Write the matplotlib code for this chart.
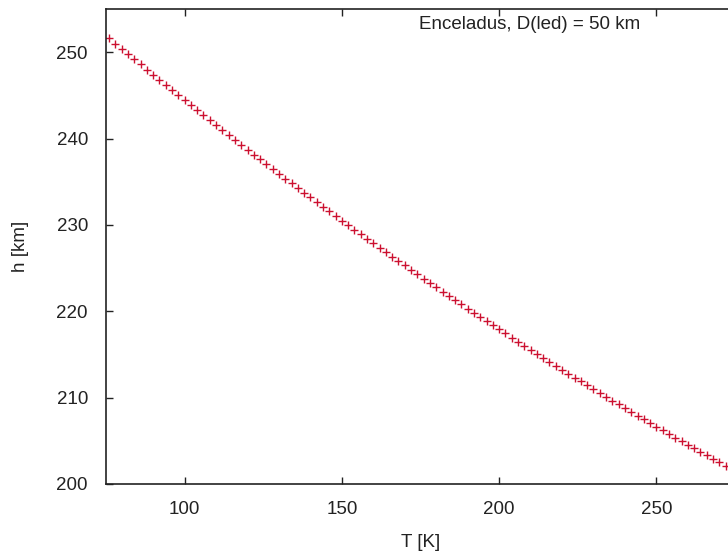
import matplotlib
matplotlib.use("Agg")
import matplotlib.pyplot as plt

# Temperature T [K] (step 2 K) and thickness h [km]
T_start = 76
T_step = 2
h_values = [
    251.60, 250.99, 250.38, 249.78, 249.18, 248.58, 247.98, 247.38, 246.79, 246.20,
    245.61, 245.02, 244.43, 243.85, 243.27, 242.69, 242.11, 241.54, 240.97, 240.40,
    239.83, 239.26, 238.70, 238.14, 237.58, 237.02, 236.46, 235.91, 235.36, 234.81,
    234.26, 233.72, 233.18, 232.64, 232.10, 231.56, 231.03, 230.50, 229.97, 229.44,
    228.92, 228.39, 227.87, 227.35, 226.84, 226.32, 225.81, 225.30, 224.79, 224.28,
    223.78, 223.28, 222.78, 222.28, 221.79, 221.29, 220.80, 220.31, 219.83, 219.34,
    218.86, 218.38, 217.90, 217.43, 216.95, 216.48, 216.01, 215.54, 215.08, 214.61,
    214.15, 213.69, 213.24, 212.78, 212.33, 211.88, 211.43, 210.99, 210.54, 210.10,
    209.66, 209.22, 208.79, 208.36, 207.92, 207.50, 207.07, 206.64, 206.22, 205.80,
    205.38, 204.97, 204.55, 204.14, 203.73, 203.33, 202.92, 202.52, 202.12, 201.72,
]
T_values = [T_start + T_step * i for i in range(len(h_values))]

x_ticks = [100, 150, 200, 250]
y_ticks = [200, 210, 220, 230, 240, 250]
title_text = "Enceladus, D(led) = 50 km"
x_label = "T [K]"
y_label = "h [km]"

plt.rcParams['font.family'] = ['Liberation Sans', 'DejaVu Sans']

fig = plt.figure(figsize=(7.28, 5.58), dpi=100)
W, H = 728, 558
left, right, top, bottom = 106, 735, 9, 484
ax = fig.add_axes([left / W, 1 - bottom / H, (right - left) / W, (bottom - top) / H])

ax.plot(T_values, h_values, linestyle='none', marker='+', markersize=6,
        markeredgewidth=1.0, color='#cc1030', clip_on=True)

ax.set_xlim(75, 275)
ax.set_ylim(200, 255)
ax.set_xticks(x_ticks)
ax.set_yticks(y_ticks)

axis_color = '#222222'
fs = 13.5
for s in ax.spines.values():
    s.set_color(axis_color)
    s.set_linewidth(1.2)
ax.tick_params(direction='in', length=5, width=1.0, color=axis_color,
               top=True, right=True, labelsize=fs, labelcolor='#222222')
ax.tick_params(axis='x', pad=12)
ax.tick_params(axis='y', pad=13)

ax.set_xlabel(x_label, fontsize=fs, color='#222222', labelpad=12)
ax.set_ylabel(y_label, fontsize=fs, color='#222222', labelpad=20)

ax.text(0.674, 0.967, title_text, transform=ax.transAxes, ha='center', va='center',
        fontsize=fs, color='#222222')

fig.savefig("out.png", dpi=100)
